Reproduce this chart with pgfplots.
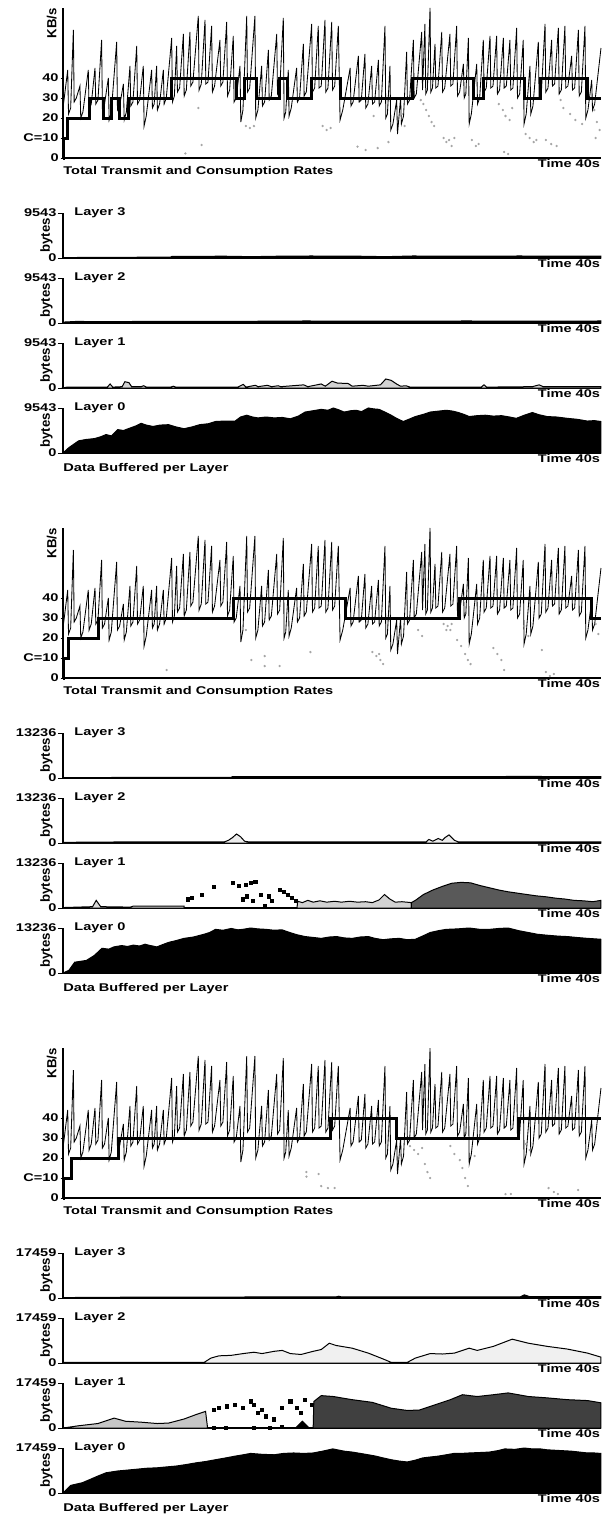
\documentclass[border=0pt]{standalone}
\usepackage{fontspec}
\setmainfont{Liberation Sans}[FakeStretch=1.3]
\newfontfamily\rfam{Liberation Sans}
\usepackage{pgfplots}
\pgfplotsset{compat=1.18}

\newcommand{\lf}{\fontsize{5.6}{6.4}\selectfont\bfseries}
\newcommand{\rf}{\rfam\fontsize{6.6}{7.4}\selectfont\bfseries}

% transmit rate (KB/s) -- same trace in all three runs
\pgfplotstableread{
t v
0.00 25
0.35 44
0.41 22
0.57 25
0.77 64
0.83 28
0.99 30
1.26 36
1.32 20
1.48 23
1.88 44
1.94 24
2.10 27
2.38 45
2.44 27
2.60 29
2.87 59
2.93 25
3.09 27
3.37 40
3.43 19
3.59 23
3.99 58
4.05 24
4.21 26
4.49 37
4.55 19
4.71 23
4.98 46
5.04 26
5.20 28
5.48 56
5.54 27
5.70 29
5.97 46
6.03 16
6.19 21
6.59 44
6.65 25
6.78 27
6.96 46
7.02 24
7.18 27
7.46 44
7.52 27
7.68 30
8.08 60
8.14 28
8.28 31
8.45 56
8.51 33
8.67 35
8.95 62
9.01 31
9.17 34
9.44 63
9.50 36
9.66 38
10.06 71
10.12 34
10.28 37
10.56 69
10.62 37
10.78 38
11.05 66
11.11 33
11.27 36
11.67 59
11.73 36
11.89 38
12.17 68
12.23 31
12.39 34
12.66 61
12.72 28
12.88 30
13.16 46
13.22 18
13.38 24
13.66 71
13.72 33
13.88 35
14.27 71
14.33 20
14.49 24
14.77 46
14.83 26
14.99 28
15.27 54
15.33 29
15.49 31
15.89 62
15.95 32
16.11 34
16.38 70
16.44 20
16.56 23
16.75 44
16.81 21
16.97 25
17.37 45
17.43 28
17.59 30
17.87 57
17.93 31
18.09 33
18.49 67
18.55 33
18.71 35
18.98 66
19.04 35
19.20 36
19.48 69
19.54 33
19.70 35
19.98 68
20.04 34
20.20 36
20.47 66
20.60 19
20.80 24
21.35 45
21.41 26
21.57 28
21.96 51
22.02 28
22.18 29
22.45 52
22.51 25
22.67 27
22.95 46
23.01 27
23.17 28
23.45 49
23.51 26
23.67 28
23.94 66
24.00 20
24.12 22
24.31 46
24.37 14
24.53 17
24.81 29
24.87 12
25.10 30
25.16 17
25.32 21
25.55 53
25.61 27
25.77 29
26.05 59
26.11 30
26.27 32
26.67 63
26.73 34
26.91 67
26.97 32
27.09 34
27.29 75
27.35 33
27.47 35
27.66 57
27.72 35
27.88 36
28.16 63
28.22 33
28.38 35
28.77 62
28.83 36
28.99 37
29.27 66
29.33 31
29.49 33
29.77 47
29.83 30
29.95 32
30.14 60
30.20 17
30.36 22
30.76 47
30.82 27
30.98 30
31.25 59
31.31 33
31.47 35
31.75 61
31.81 35
31.97 36
32.24 61
32.30 32
32.46 34
32.74 60
32.80 35
32.96 36
33.23 59
33.29 34
33.45 35
33.73 65
33.79 30
33.95 32
34.22 59
34.28 17
34.44 22
34.72 46
34.78 22
34.94 26
35.34 58
35.40 30
35.56 32
35.84 67
35.90 33
36.06 35
36.33 59
36.39 36
36.55 37
36.83 65
36.89 32
37.05 34
37.32 66
37.38 35
37.54 36
37.82 51
37.88 34
38.04 35
38.32 64
38.38 31
38.54 33
38.81 66
38.87 20
39.03 24
39.31 39
39.37 24
39.53 27
40.00 55
}\tx

\pgfplotsset{
  base/.style={scale only axis, width=269pt, xmin=0, xmax=40, clip=false,
    axis x line*=bottom, axis y line*=left,
    x axis line style={-}, y axis line style={-},
    axis line style={line width=0.6pt},
    xtick=\empty, tick align=outside,
    tick style={black, line width=0.5pt},
    tick label style={font=\lf},
    /pgf/number format/assume math mode=true,
    anchor=north west},
  rate/.style={base, height=75pt, ymin=0, ymax=75,
    ytick={0,10,20,30,40}, yticklabels={0,C=10,20,30,40},
    major tick length=1.2pt, yticklabel style={inner sep=0.8pt}},
  layer/.style={base, height=22.5pt, ymin=0, ymax=1, ytick={0,1},
    major tick length=2.5pt, yticklabel style={inner sep=0.6pt}},
  tx/.style={black, line width=0.42pt},
  cons/.style={const plot, black, line width=1.5pt},
  dots/.style={only marks, mark=*, mark size=0.35pt, gray!70},
  buf/.style={draw=black, line width=0.5pt},
}

\newcommand{\ratelabels}{%
  \node[font=\rf, rotate=90, anchor=south east, inner sep=0pt] at ([xshift=-3pt]rel axis cs:0,1) {KB/s};
  \node[font=\lf, anchor=north east, inner sep=0.3pt] at (rel axis cs:1,0) {Time 40s};
  \node[font=\lf, anchor=north west, inner sep=0pt] at ([yshift=-4pt]rel axis cs:0,0) {Total Transmit and Consumption Rates};
}
\newcommand{\layerlabels}[1]{%
  \node[font=\lf, anchor=west, inner sep=0pt] at ([xshift=5.5pt]rel axis cs:0,1) {#1};
  \node[font=\lf, anchor=north east, inner sep=0.3pt] at (rel axis cs:1,0) {Time 40s};
  \node[font=\rf, rotate=90, anchor=south, inner sep=0pt] at ([xshift=-5pt]rel axis cs:0,0.5) {bytes};
}
\newcommand{\bottomlabel}{%
  \node[font=\lf, anchor=north west, inner sep=0pt] at ([yshift=-5pt]rel axis cs:0,0) {Data Buffered per Layer};
}

\begin{document}
\begin{tikzpicture}
\path[use as bounding box] (0,0) rectangle (307.5pt,-758pt);

%================ run 1 ================
\begin{axis}[rate, at={(31.5pt,-4pt)}]
\addplot[dots] coordinates {(9.1,2.3)(10.06,25)(10.3,6.5)(13.6,16)(13.9,15)(14.2,16)(19.3,16)(19.6,14)(19.9,15)
 (21.9,5.7)(22.5,4)(23.1,21)(23.4,5)(24.2,8)(25.2,22)(25.4,16)(26.6,29)(26.8,27)(27.0,24)(27.2,21)(27.4,18)(27.6,16)
 (28.3,10)(28.5,8)(28.7,9)(28.9,6)(29.1,10)(30.4,9)(30.7,6)(30.9,7)(32.4,27)(32.7,24)(32.9,21)(33.2,19)(33.4,25)
 (32.8,3)(33.1,2)(34.4,12)(34.7,10)(35.0,8)(35.2,9)(35.9,9)(36.3,7)(36.7,6)(37.0,29)(37.2,25)(37.7,22)(38.1,19)
 (38.6,17)(39.5,24)(39.7,18)(39.9,14)(39.6,10)};
\addplot[tx] table[x=t,y=v] {\tx};
\addplot[cons] coordinates {(0,0)(0.02,10)(0.35,20)(2.0,30)(3.0,20)(3.6,30)(4.2,20)(4.9,30)(8.05,40)(12.9,30)
 (13.5,40)(14.4,30)(16.1,40)(16.7,30)(18.5,40)(20.6,30)(26.0,40)(30.5,30)(31.25,40)(34.3,30)(35.5,40)(39.0,30)(40,30)};
\ratelabels
\end{axis}

\begin{axis}[layer, yticklabels={0,9543}, at={(31.5pt,-106.5pt)}]
\addplot[buf, fill=black] coordinates {(0,0.01)(8,0.02)(8.1,0.035)(12,0.04)(14,0.03)(16,0.04)(18.5,0.045)(20,0.04)
 (22,0.04)(24,0.03)(26,0.045)(30,0.04)(34,0.045)(36,0.04)(40,0.04)} \closedcycle;
\layerlabels{Layer 3}
\end{axis}
\begin{axis}[layer, yticklabels={0,9543}, at={(31.5pt,-139pt)}]
\addplot[buf, fill=black] coordinates {(0,0.02)(1,0.035)(3,0.03)(6,0.035)(12,0.035)(18,0.045)(24,0.04)(30,0.045)
 (36,0.04)(40,0.045)} \closedcycle;
\layerlabels{Layer 2}
\end{axis}
\begin{axis}[layer, yticklabels={0,9543}, at={(31.5pt,-171.5pt)}]
\addplot[buf, fill=gray!35] coordinates {(0,0)(0.3,0.02)(3.3,0.02)(3.5,0.09)(3.7,0.02)(4.4,0.03)(4.6,0.14)(4.9,0.12)
 (5.1,0.03)(5.8,0.03)(6.0,0.05)(6.2,0.02)(8.0,0.02)(8.2,0.04)(8.4,0.02)(13.0,0.02)(13.4,0.08)(13.6,0.02)(14.3,0.06)
 (14.5,0.03)(15.2,0.06)(15.5,0.03)(16.0,0.05)(16.2,0.03)(17.9,0.07)(18.2,0.03)(19.2,0.09)(19.5,0.04)(20.0,0.15)
 (20.4,0.11)(21.2,0.10)(21.5,0.04)(22.3,0.06)(22.7,0.04)(23.6,0.07)(24.0,0.20)(24.4,0.17)(24.8,0.09)(25.1,0.04)
 (25.5,0.05)(25.8,0.02)(31.1,0.02)(31.3,0.07)(31.5,0.02)(34.9,0.03)(35.4,0.07)(35.7,0.03)(40,0.03)} \closedcycle;
\layerlabels{Layer 1}
\end{axis}
\begin{axis}[layer, yticklabels={0,9543}, at={(31.5pt,-204pt)}]
\addplot[buf, fill=black] coordinates {(0,0)(0.44,0.12)(1.16,0.27)(1.7,0.30)(2.33,0.32)(2.8,0.36)(3.2,0.41)(3.6,0.38)
 (4.07,0.52)(4.5,0.50)(4.94,0.55)(5.4,0.60)(5.81,0.66)(6.2,0.62)(6.69,0.59)(7.2,0.62)(7.85,0.63)(8.4,0.58)(9.0,0.54)
 (9.6,0.58)(10.17,0.63)(10.8,0.65)(11.34,0.70)(12.0,0.71)(12.8,0.71)(13.2,0.80)(13.66,0.84)(14.1,0.80)(14.5,0.78)
 (15.1,0.80)(15.7,0.78)(16.3,0.79)(16.9,0.76)(17.5,0.82)(18.0,0.91)(18.6,0.94)(19.2,0.97)(19.7,0.95)(20.1,1.0)
 (20.5,0.96)(20.9,0.91)(21.4,0.94)(21.8,0.95)(22.2,0.92)(22.7,1.0)(23.1,0.98)(23.5,0.97)(24.0,0.90)(24.4,0.84)
 (24.8,0.77)(25.3,0.70)(25.8,0.76)(26.2,0.81)(26.8,0.86)(27.3,0.91)(27.9,0.93)(28.5,0.95)(29.0,0.93)(29.4,0.90)
 (29.8,0.86)(30.2,0.81)(30.8,0.83)(31.4,0.84)(32.0,0.82)(32.6,0.83)(33.2,0.80)(33.7,0.77)(34.3,0.84)(34.9,0.90)
 (35.4,0.85)(36.0,0.81)(36.7,0.80)(37.5,0.77)(38.2,0.75)(39.0,0.71)(39.5,0.72)(40,0.70)} \closedcycle;
\layerlabels{Layer 0}
\bottomlabel
\end{axis}

%================ run 2 ================
\begin{axis}[rate, at={(31.5pt,-264pt)}]
\addplot[dots] coordinates {(7.7,4)(13.6,24)(14.0,9)(15.0,11)(15.0,6)(16.1,6)(18.4,13)(23.0,13)(23.3,11)(23.5,12)
 (23.6,9)(23.8,7)(26.4,24)(26.7,21)(28.3,27)(28.6,26)(28.9,27)(28.5,24)(28.8,24)(29.3,19)(29.6,16)(29.9,12)(30.1,9)
 (30.3,7)(32.0,15)(32.3,12)(32.6,9)(32.8,4)(34.3,26)(34.6,21)(35.6,14)(35.9,3)(36.2,1)(36.5,2)(39.6,27)(39.8,22)};
\addplot[tx] table[x=t,y=v] {\tx};
\addplot[cons] coordinates {(0,0)(0.02,10)(0.4,20)(2.65,30)(12.7,40)(21.0,30)(29.5,40)(39.3,30)(40,30)};
\ratelabels
\end{axis}

\begin{axis}[layer, yticklabels={0,13236}, at={(31.5pt,-366.5pt)}]
\addplot[buf, fill=black] coordinates {(0,0.01)(12.5,0.015)(12.6,0.03)(20,0.03)(30,0.03)(34,0.035)(40,0.03)} \closedcycle;
\layerlabels{Layer 3}
\end{axis}
\begin{axis}[layer, yticklabels={0,13236}, at={(31.5pt,-399pt)}]
\addplot[buf, fill=gray!15] coordinates {(0,0.015)(5,0.025)(12.0,0.025)(12.3,0.06)(12.6,0.12)(12.9,0.20)(13.2,0.14)
 (13.5,0.04)(13.8,0.025)(27.0,0.025)(27.2,0.08)(27.5,0.04)(27.9,0.10)(28.2,0.06)(28.4,0.12)(28.7,0.18)(29.1,0.06)
 (29.4,0.025)(40,0.025)} \closedcycle;
\layerlabels{Layer 2}
\end{axis}
\begin{axis}[layer, yticklabels={0,13236}, at={(31.5pt,-431.5pt)}]
\addplot[buf, fill=gray!30] coordinates {(0,0.01)(2.2,0.03)(2.47,0.17)(2.8,0.03)(5.0,0.02)(5.2,0.04)(9.0,0.04)} \closedcycle;
\addplot[only marks, mark=square*, mark size=0.8pt, black] coordinates {(9.3,0.19)(9.6,0.23)(10.3,0.30)(11.2,0.47)
 (12.65,0.56)(13.1,0.49)(13.6,0.52)(13.95,0.56)(14.3,0.58)(13.4,0.19)(13.7,0.26)(14.1,0.15)(14.7,0.30)(15.0,0.04)
 (15.3,0.26)(15.55,0.15)(16.1,0.40)(16.4,0.35)(16.7,0.30)(17.0,0.23)(17.3,0.16)};
\addplot[buf, fill=gray!35] coordinates {(17.4,0.01)(17.45,0.15)(17.8,0.12)(18.2,0.17)(18.6,0.13)(19.1,0.16)(19.6,0.13)
 (20.2,0.15)(20.7,0.13)(21.3,0.15)(21.9,0.13)(22.5,0.14)(23.0,0.12)(23.5,0.18)(23.9,0.30)(24.3,0.20)(24.7,0.13)
 (25.2,0.14)(25.9,0.12)} \closedcycle;
\addplot[buf, fill=black!65] coordinates {(25.9,0.12)(26.2,0.17)(26.8,0.30)(27.5,0.40)(28.2,0.48)(28.9,0.55)(29.6,0.57)
 (30.3,0.56)(31.0,0.50)(31.7,0.45)(32.4,0.40)(33.1,0.36)(33.8,0.33)(34.5,0.30)(35.2,0.27)(35.9,0.25)(36.6,0.22)
 (37.3,0.20)(38.0,0.17)(38.7,0.16)(39.4,0.14)(40,0.17)} \closedcycle;
\layerlabels{Layer 1}
\end{axis}
\begin{axis}[layer, yticklabels={0,13236}, at={(31.5pt,-464pt)}]
\addplot[buf, fill=black] coordinates {(0,0)(0.44,0.06)(0.87,0.24)(1.3,0.26)(1.74,0.28)(2.33,0.39)(2.9,0.55)(3.4,0.53)
 (3.78,0.58)(4.36,0.61)(4.8,0.59)(5.23,0.62)(5.7,0.60)(6.1,0.64)(6.5,0.61)(6.98,0.58)(7.4,0.63)(7.85,0.68)(8.4,0.72)
 (9.0,0.77)(9.7,0.80)(10.47,0.86)(10.9,0.90)(11.34,0.97)(11.9,0.95)(12.5,0.99)(13.0,0.96)(13.37,0.97)(13.95,1.0)
 (14.5,0.98)(15.1,0.97)(15.7,0.95)(16.28,0.96)(16.86,0.90)(17.4,0.85)(18.0,0.81)(18.6,0.79)(19.2,0.77)(19.8,0.80)
 (20.35,0.81)(20.9,0.78)(21.5,0.77)(22.1,0.80)(22.7,0.81)(23.2,0.77)(23.8,0.74)(24.4,0.76)(25.0,0.77)(25.6,0.74)
 (26.2,0.75)(26.8,0.83)(27.3,0.90)(27.9,0.94)(28.5,0.97)(29.3,0.98)(30.2,1.0)(31.0,0.97)(31.7,0.97)(32.4,0.99)
 (33.1,1.0)(33.9,0.94)(34.6,0.90)(35.3,0.86)(36.0,0.84)(36.8,0.82)(37.5,0.81)(38.2,0.79)(39.0,0.77)(40,0.75)} \closedcycle;
\layerlabels{Layer 0}
\bottomlabel
\end{axis}

%================ run 3 ================
\begin{axis}[rate, at={(31.5pt,-524pt)}]
\addplot[dots] coordinates {(18.1,13)(18.1,10.7)(19.0,12)(19.2,6)(19.7,5)(20.2,5)(25.8,26)(26.1,24)(26.4,22)(26.7,25)
 (26.9,17)(27.1,13)(27.3,10)(28.8,26)(29.1,22)(29.5,19)(29.7,15)(29.9,10)(30.1,6)(30.6,21)(32.9,2)(33.3,2)(34.4,27)
 (34.7,24)(36.1,5)(36.5,3)(36.8,2)(38.3,4)};
\addplot[tx] table[x=t,y=v] {\tx};
\addplot[cons] coordinates {(0,0)(0.02,10)(0.65,20)(4.15,30)(19.9,40)(24.8,30)(33.9,40)(40,40)};
\ratelabels
\end{axis}

\begin{axis}[layer, yticklabels={0,17459}, at={(31.5pt,-626.5pt)}]
\addplot[buf, fill=black] coordinates {(0,0.01)(6,0.02)(20.3,0.025)(20.5,0.04)(20.7,0.025)(34.0,0.025)(34.3,0.07)
 (34.7,0.03)(40,0.03)} \closedcycle;
\layerlabels{Layer 3}
\end{axis}
\begin{axis}[layer, yticklabels={0,17459}, at={(31.5pt,-659pt)}]
\addplot[buf, fill=gray!12] coordinates {(0,0.015)(10.5,0.015)(11.0,0.11)(11.6,0.16)(12.5,0.17)(13.4,0.21)(14.2,0.24)
 (14.8,0.21)(15.7,0.26)(16.3,0.28)(16.9,0.21)(17.7,0.19)(18.6,0.26)(19.2,0.30)(19.8,0.44)(20.3,0.39)(21.5,0.33)
 (22.7,0.22)(23.8,0.09)(24.4,0.015)(25.6,0.015)(26.2,0.11)(27.3,0.21)(28.2,0.20)(29.1,0.22)(29.6,0.27)(30.2,0.33)
 (30.8,0.28)(32.0,0.37)(33.4,0.53)(34.6,0.44)(36.0,0.37)(37.5,0.31)(39.0,0.22)(40,0.13)} \closedcycle;
\layerlabels{Layer 2}
\end{axis}
\begin{axis}[layer, yticklabels={0,17459}, at={(31.5pt,-691.5pt)}]
\addplot[buf, fill=gray!45] coordinates {(0,0)(1.16,0.05)(2.6,0.10)(3.8,0.22)(4.65,0.15)(5.8,0.13)(7.0,0.10)(7.85,0.11)
 (9.0,0.20)(9.9,0.30)(10.6,0.37)(10.75,0.0)} \closedcycle;
\addplot[only marks, mark=square*, mark size=0.8pt, black] coordinates {(11.2,0.41)(11.6,0.44)(12.2,0.48)(12.8,0.52)
 (13.4,0.44)(13.95,0.59)(14.2,0.52)(14.5,0.33)(14.8,0.41)(15.1,0.26)(15.7,0.19)(16.3,0.44)(16.9,0.59)(17.4,0.44)
 (17.7,0.33)(18.0,0.63)(18.5,0.52)(11.2,0.0)(12.1,0.0)(14.2,0.0)(15.4,0.0)(16.3,0.02)};
\addplot[buf, fill=black] coordinates {(17.3,0)(17.8,0.15)(18.3,0)} \closedcycle;
\addplot[buf, fill=black!75] coordinates {(18.6,0)(18.65,0.59)(19.2,0.72)(20.1,0.70)(21.5,0.63)(23.0,0.57)(24.4,0.44)
 (25.6,0.39)(26.5,0.40)(27.3,0.48)(28.8,0.63)(29.7,0.74)(30.8,0.70)(32.0,0.74)(33.1,0.78)(34.6,0.70)(36.0,0.67)
 (37.5,0.63)(39.0,0.61)(40,0.56)} \closedcycle;
\layerlabels{Layer 1}
\end{axis}
\begin{axis}[layer, yticklabels={0,17459}, at={(31.5pt,-724pt)}]
\addplot[buf, fill=black] coordinates {(0,0)(0.58,0.17)(1.45,0.23)(2.0,0.30)(2.62,0.38)(3.2,0.45)(4.07,0.49)(4.8,0.51)
 (5.52,0.53)(6.2,0.55)(6.98,0.56)(7.7,0.58)(8.43,0.60)(9.1,0.63)(9.88,0.67)(10.6,0.70)(11.34,0.74)(12.1,0.78)
 (12.8,0.82)(13.4,0.85)(13.95,0.88)(14.8,0.86)(15.7,0.85)(16.4,0.88)(17.15,0.89)(17.9,0.88)(18.6,0.89)(19.3,0.93)
 (20.06,0.98)(20.9,0.93)(21.5,0.91)(22.1,0.88)(22.7,0.85)(23.26,0.82)(23.8,0.78)(24.4,0.74)(25.0,0.71)(25.6,0.69)
 (26.2,0.73)(26.74,0.78)(27.3,0.80)(27.9,0.82)(28.5,0.85)(29.07,0.88)(29.6,0.88)(30.2,0.89)(31.0,0.90)(31.7,0.91)
 (32.3,0.94)(32.85,0.98)(33.6,0.97)(34.3,1.0)(34.9,0.98)(35.5,0.98)(36.0,0.96)(36.6,0.95)(37.2,0.94)(37.8,0.93)
 (38.4,0.91)(39.0,0.89)(39.5,0.89)(40,0.88)} \closedcycle;
\layerlabels{Layer 0}
\bottomlabel
\end{axis}
\end{tikzpicture}
\end{document}
